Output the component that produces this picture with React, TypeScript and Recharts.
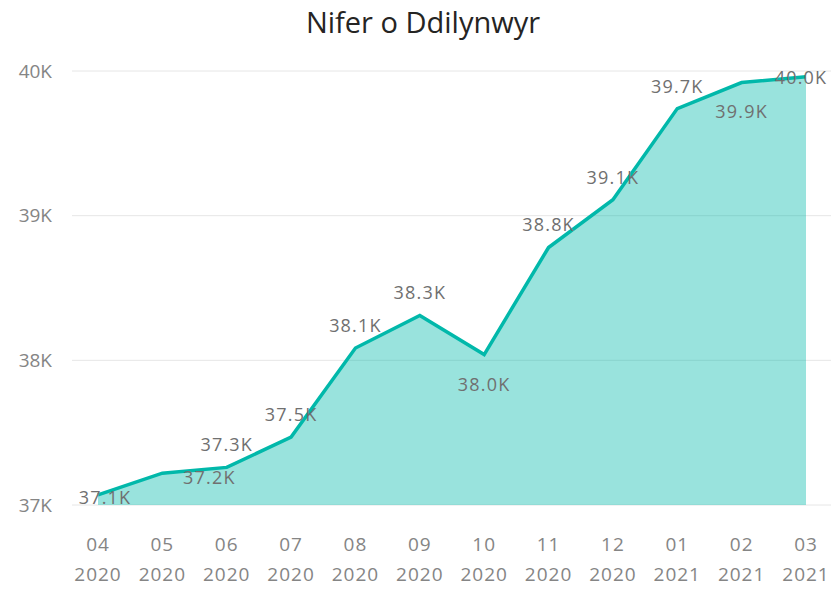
import { AreaChart, Area, XAxis, YAxis, CartesianGrid, LabelList } from "recharts"

const months = ["04", "05", "06", "07", "08", "09", "10", "11", "12", "01", "02", "03"]
const years = ["2020", "2020", "2020", "2020", "2020", "2020", "2020", "2020", "2020", "2021", "2021", "2021"]
const followers = [37070, 37220, 37260, 37470, 38085, 38310, 38040, 38780, 39110, 39740, 39920, 39960]
const yTicks = [37000, 38000, 39000, 40000]

const data = months.map((m, i) => ({ key: i, month: m, year: years[i], value: followers[i] }))

const fmtK = (v: number) => `${(v / 1000).toFixed(1)}K`
const font = "'Open Sans', sans-serif"

// label nudges so they sit where the original report put them
const labelShift: Record<number, [number, number]> = {
  0: [7, 2], 1: [47, 4], 6: [0, 29], 10: [0, 28], 11: [-5, 0],
}

const DataLabel = (props: any) => {
  const { x, y, index, value } = props
  const [dx, dy] = labelShift[index] ?? [0, -23]
  return (
    <text x={x + dx} y={y + dy} textAnchor="middle" dominantBaseline="central"
      fontSize={18} letterSpacing={1.2} fill="#707070" fontFamily={font}>
      {fmtK(value)}
    </text>
  )
}

const MonthTick = (props: any) => {
  const { x, y, payload } = props
  const d = data.find(r => r.key === payload.value)
  return (
    <g>
      <text x={x} y={y + 38} textAnchor="middle" fontSize={19} letterSpacing={1} fill="#858585" fontFamily={font}>{d?.month}</text>
      <text x={x} y={y + 68} textAnchor="middle" fontSize={19} letterSpacing={1} fill="#858585" fontFamily={font}>{d?.year}</text>
    </g>
  )
}

export default function App() {
  return (
    <div style={{ position: "absolute", left: 0, top: 0, width: 831, height: 589, background: "#fff" }}>
      <div style={{ position: "absolute", left: 0, top: 2, width: 846, textAlign: "center", fontSize: 29, lineHeight: "40px", color: "#252423", fontFamily: font }}>
        Nifer o Ddilynwyr
      </div>
      <AreaChart width={831} height={589} data={data} margin={{ top: 71, right: 0, bottom: 54, left: 0 }}>
        <CartesianGrid vertical={false} stroke="#e6e6e6" />
        <XAxis dataKey="key" axisLine={false} tickLine={false} padding={{ left: 26, right: 25 }}
          interval={0} tick={<MonthTick />} />
        <YAxis domain={[37000, 40000]} ticks={yTicks} width={72} axisLine={false} tickLine={false}
          tickMargin={14} tickFormatter={(v: number) => `${v / 1000}K`}
          tick={{ fontSize: 19, fill: "#858585", fontFamily: font }} />
        <Area type="linear" dataKey="value" stroke="#01B8AA" strokeWidth={3.5} fill="#01B8AA" fillOpacity={0.4}
          isAnimationActive={false} dot={false}>
          <LabelList dataKey="value" content={<DataLabel />} />
        </Area>
      </AreaChart>
    </div>
  )
}
